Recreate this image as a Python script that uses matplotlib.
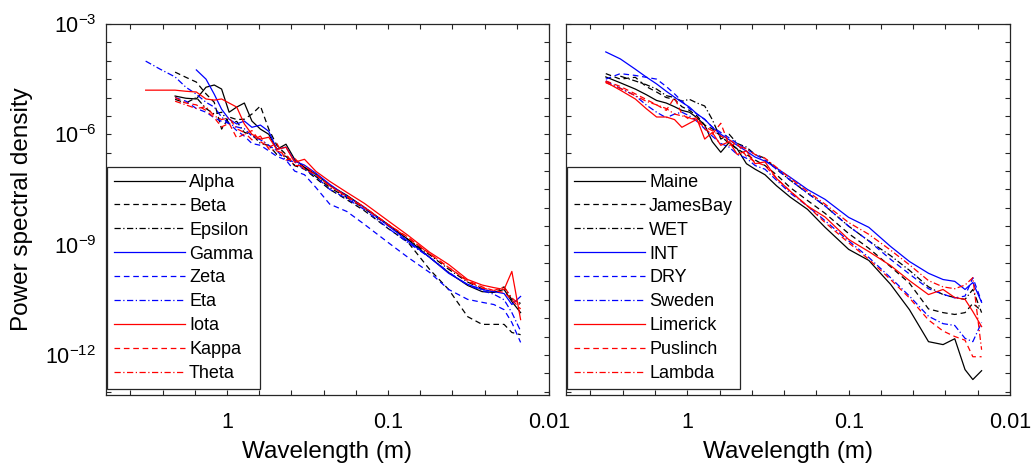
import matplotlib
matplotlib.use("Agg")

import matplotlib.pyplot as plt
import numpy as np
from matplotlib.ticker import FixedLocator, FuncFormatter


plt.rcParams["font.family"] = ["Liberation Sans", "DejaVu Sans"]
plt.rcParams["mathtext.fontset"] = "custom"
plt.rcParams["mathtext.rm"] = "Liberation Sans"
plt.rcParams["mathtext.default"] = "regular"

# wavelength grid (m) shared by both panels
WAVELENGTH = [3.2, 2.6, 2.1, 1.8, 1.55, 1.35, 1.2, 1.08, 0.97, 0.87, 0.78, 0.7,
              0.62, 0.55, 0.49, 0.43, 0.38, 0.33, 0.28, 0.23, 0.18, 0.14, 0.1,
              0.075, 0.055, 0.042, 0.032, 0.026, 0.022, 0.019, 0.017, 0.015]
nan = np.nan

# log10 of power spectral density, left panel
LEFT_NAMES = ["Alpha", "Beta", "Epsilon", "Gamma", "Zeta", "Eta", "Iota", "Kappa", "Theta"]
alpha = [nan, nan, -4.96, -5.02, -5.04, -4.72, -4.66, -4.77, -5.40, -5.26, -5.15, -5.64,
         -5.86, -6.00, -6.41, -6.27, -6.68, -6.90, -7.09, -7.39, -7.66, -7.99, -8.45,
         -8.86, -9.35, -9.76, -10.11, -10.28, -10.30, -10.22, -10.55, -10.85]
beta = [nan, nan, -4.31, -4.45, -4.58, -4.90, -5.13, -5.86, -5.53, -5.60, -5.59, -5.45,
        -5.23, -5.86, -6.30, -6.55, -6.85, -6.95, -7.20, -7.50, -7.78, -8.08, -8.56,
        -8.94, -9.68, -10.22, -10.96, -11.17, -11.17, -11.17, -11.39, -11.45]
epsilon = [nan, nan, -5.05, -5.15, -5.00, -5.30, -5.45, -5.40, -5.70, -5.65, -5.95, -6.00,
           -6.25, -6.30, -6.55, -6.60, -6.85, -6.90, -7.15, -7.45, -7.72, -8.02, -8.48,
           -8.86, -9.28, -9.67, -10.02, -10.20, -10.30, -10.15, -10.50, -10.60]
gamma = [nan, nan, nan, nan, -4.25, -4.50, -4.91, -5.32, -5.59, -5.72, -5.64, -5.81,
         -5.75, -5.92, -6.41, -6.35, -6.73, -6.84, -7.06, -7.36, -7.69, -7.99, -8.48,
         -8.91, -9.35, -9.78, -10.08, -10.22, -10.28, -10.33, -10.63, -10.41]
zeta = [nan, nan, -5.00, -5.10, -5.30, -5.40, -5.55, -5.65, -5.70, -5.90, -6.05, -6.25,
        -6.30, -6.45, -6.60, -6.70, -7.00, -7.10, -7.45, -7.90, -8.10, -8.45, -8.94,
        -9.35, -9.76, -10.22, -10.49, -10.57, -10.63, -10.77, -11.12, -11.66]
eta = [-4.01, -4.23, -4.44, -4.72, -4.91, -5.13, -5.26, -5.53, -5.72, -5.80, -5.85, -6.05,
       -6.15, -6.30, -6.45, -6.70, -6.75, -6.95, -7.15, -7.50, -7.75, -8.05, -8.55,
       -8.95, -9.35, -9.75, -10.10, -10.25, -10.35, -10.50, -10.85, -11.35]
iota = [-4.80, -4.80, -4.80, -4.83, -4.85, -5.04, -5.07, -5.04, -5.15, -5.26, -5.72, -6.00,
        -6.13, -6.08, -6.41, -6.35, -6.76, -6.68, -7.01, -7.28, -7.58, -7.88, -8.35,
        -8.75, -9.21, -9.54, -9.95, -10.10, -10.17, -10.22, -9.73, -11.04]
kappa = [nan, nan, -5.00, -5.15, -5.20, -5.35, -5.55, -5.80, -5.70, -6.10, -6.00, -5.90,
         -6.20, -6.35, -6.25, -6.70, -6.65, -6.95, -7.10, -7.40, -7.70, -8.00, -8.45,
         -8.80, -9.25, -9.62, -9.98, -10.15, -10.25, -10.30, -10.50, -10.75]
theta = [nan, nan, -5.10, -5.20, -5.30, -5.25, -5.50, -5.60, -5.55, -5.85, -5.95, -6.15,
         -6.05, -6.40, -6.45, -6.55, -6.85, -6.85, -7.10, -7.40, -7.68, -7.98, -8.45,
         -8.82, -9.25, -9.62, -10.00, -10.18, -10.25, -10.15, -10.45, -10.65]
LEFT_VALUES = [alpha, beta, epsilon, gamma, zeta, eta, iota, kappa, theta]

# log10 of power spectral density, right panel
RIGHT_NAMES = ["Maine", "JamesBay", "WET", "INT", "DRY", "Sweden", "Limerick", "Puslinch", "Lambda"]
maine = [-4.44, -4.60, -4.77, -4.92, -5.08, -5.15, -5.25, -5.35, -5.40, -5.55, -5.75, -6.20,
         -6.49, -6.22, -6.40, -6.80, -6.95, -7.10, -7.40, -7.71, -8.04, -8.53, -9.13,
         -9.43, -10.08, -10.77, -11.64, -11.72, -11.56, -12.40, -12.67, -12.43]
jamesbay = [-4.35, -4.50, -4.45, -4.70, -4.85, -5.00, -5.05, -5.25, -5.35, -5.50, -5.75, -5.85,
            -6.05, -6.25, -6.40, -6.55, -6.70, -6.85, -7.10, -7.45, -7.80, -8.15, -8.70,
            -9.10, -9.60, -10.05, -10.75, -10.85, -10.90, -10.85, -10.60, -10.80]
wet = [nan, -4.42, -4.55, -4.65, -4.77, -4.95, -5.00, -5.10, -5.05, -5.15, -5.23, -5.60,
       -6.13, -6.00, -6.25, -6.35, -6.55, -6.65, -6.95, -7.25, -7.60, -7.95, -8.50,
       -8.90, -9.30, -9.70, -10.15, -10.36, -10.44, -10.49, -10.22, -10.85]
int_ = [-3.76, -3.95, -4.23, -4.44, -4.63, -4.83, -4.99, -5.13, -5.26, -5.45, -5.59, -5.81,
        -6.00, -6.15, -6.30, -6.46, -6.62, -6.73, -6.92, -7.17, -7.50, -7.77, -8.26,
        -8.53, -9.05, -9.46, -9.78, -9.95, -10.00, -10.22, -10.03, -10.57]
dry = [-4.50, -4.35, -4.40, -4.45, -4.50, -4.70, -4.90, -5.10, -5.30, -5.45, -5.60, -5.80,
       -5.95, -6.10, -6.25, -6.40, -6.55, -6.70, -6.95, -7.25, -7.60, -7.95, -8.50,
       -8.90, -9.40, -9.80, -10.20, -10.35, -10.45, -10.40, -9.90, -10.55]
sweden = [-4.55, -4.75, -4.95, -5.20, -5.40, -5.55, -5.45, -5.40, -5.50, -5.65, -5.85, -6.05,
          -6.25, -6.35, -6.55, -6.65, -6.85, -6.95, -7.25, -7.60, -7.95, -8.35, -8.90,
          -9.35, -9.90, -10.40, -10.95, -11.15, -11.20, -11.55, -11.64, -11.12]
limerick = [-4.58, -4.80, -5.04, -5.30, -5.53, -5.53, -5.60, -5.81, -5.70, -5.59, -6.13, -5.95,
            -6.30, -6.20, -6.55, -6.45, -6.80, -6.75, -7.20, -7.55, -7.95, -8.25, -8.86,
            -9.19, -9.57, -9.98, -10.36, -10.22, -10.44, -10.49, -10.82, -11.23]
puslinch = [-4.55, -4.70, -4.90, -5.05, -5.20, -5.35, -5.00, -5.45, -5.60, -5.55, -5.85, -6.00,
            -5.70, -6.30, -6.25, -6.60, -6.75, -6.85, -7.20, -7.55, -7.95, -8.40, -8.95,
            -9.40, -9.95, -10.45, -11.05, -11.35, -11.50, -11.60, -12.05, -12.05]
lambda_ = [-4.60, -4.75, -4.95, -5.10, -5.20, -5.30, -5.45, -5.50, -5.55, -5.65, -5.80, -5.90,
           -6.05, -6.15, -6.30, -6.40, -6.55, -6.65, -6.90, -7.20, -7.55, -7.90, -8.40,
           -8.72, -9.15, -9.55, -9.98, -10.15, -10.20, -10.10, -9.90, -11.86]
RIGHT_VALUES = [maine, jamesbay, wet, int_, dry, sweden, limerick, puslinch, lambda_]

COLORS = ["k", "k", "k", "#0000ff", "#0000ff", "#0000ff", "#ff0000", "#ff0000", "#ff0000"]
STYLES = ["-", (0, (4.5, 3)), (0, (5, 2, 1, 2))] * 3


def decade_label(v, pos):
    e = np.log10(v)
    if abs(e - round(e)) > 1e-6 or round(e) % 3 != 0:
        return ""
    return r"$10^{%d}$" % round(e)


def x_label(v, pos):
    e = np.log10(v)
    if abs(e - round(e)) > 1e-6:
        return ""
    return {0: "1", -1: "0.1", -2: "0.01"}.get(round(e), "")


def style_axis(ax):
    ax.set_xscale("log")
    ax.set_yscale("log")
    ax.set_xlim(10 ** 0.7516, 0.01)
    ax.set_ylim(10 ** -13.09, 1e-3)
    ax.xaxis.set_major_locator(FixedLocator(10 ** np.arange(-2.0, 0.61, 0.2)))
    ax.xaxis.set_minor_locator(FixedLocator([]))
    ax.xaxis.set_major_formatter(FuncFormatter(x_label))
    ax.yaxis.set_major_locator(FixedLocator(10 ** np.arange(-13.0, -2.9, 0.5)))
    ax.yaxis.set_minor_locator(FixedLocator([]))
    ax.tick_params(which="both", direction="in", length=3.5, width=0.8, top=True,
                   right=True, labelsize=15.5, color="#262626")
    ax.tick_params(axis="x", pad=12)
    ax.tick_params(axis="y", pad=7)
    for s in ax.spines.values():
        s.set_color("#262626")
        s.set_linewidth(0.9)
    ax.set_xlabel("Wavelength (m)", fontsize=17.5, labelpad=6)


fig = plt.figure(figsize=(10.34, 4.71), dpi=100)
ax1 = fig.add_axes([0.1025, 0.1614, 0.4284, 0.7877])
ax2 = fig.add_axes([0.5474, 0.1614, 0.4294, 0.7877])

for ax, names, values in [(ax1, LEFT_NAMES, LEFT_VALUES), (ax2, RIGHT_NAMES, RIGHT_VALUES)]:
    for name, vals, c, ls in zip(names, values, COLORS, STYLES):
        ax.plot(WAVELENGTH, 10 ** np.array(vals), color=c, linestyle=ls, linewidth=0.9, label=name)
    style_axis(ax)
    leg = ax.legend(loc="lower left", bbox_to_anchor=(0.002, 0.016), borderaxespad=0,
                    fontsize=13, handlelength=3.9, handletextpad=0.25, labelspacing=0.38,
                    borderpad=0.4, fancybox=False, framealpha=1)
    leg.get_frame().set_edgecolor("#262626")
    leg.get_frame().set_linewidth(0.9)

ax1.yaxis.set_major_formatter(FuncFormatter(decade_label))
ax1.set_ylabel("Power spectral density", fontsize=17.5, labelpad=9)
ax2.yaxis.set_major_formatter(FuncFormatter(lambda v, p: ""))

fig.savefig("out.png", dpi=100)
